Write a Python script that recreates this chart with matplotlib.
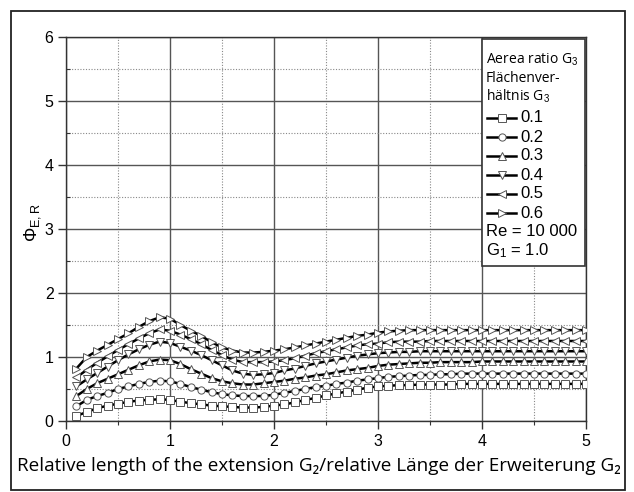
import matplotlib
matplotlib.use("Agg")
import matplotlib.pyplot as plt
from matplotlib.lines import Line2D
from matplotlib.patches import Rectangle
from matplotlib.ticker import MultipleLocator

plt.rcParams['font.family'] = ['Liberation Sans', 'DejaVu Sans']
plt.rcParams['mathtext.fontset'] = 'custom'
plt.rcParams['mathtext.rm'] = 'Liberation Sans'
plt.rcParams['mathtext.it'] = 'Liberation Sans:italic'

# relative length of the extension G2
G2 = [0.1, 0.2, 0.3, 0.4, 0.5, 0.6, 0.7, 0.8, 0.9, 1.0,
      1.1, 1.2, 1.3, 1.4, 1.5, 1.6, 1.7, 1.8, 1.9, 2.0,
      2.1, 2.2, 2.3, 2.4, 2.5, 2.6, 2.7, 2.8, 2.9, 3.0,
      3.1, 3.2, 3.3, 3.4, 3.5, 3.6, 3.7, 3.8, 3.9, 4.0,
      4.1, 4.2, 4.3, 4.4, 4.5, 4.6, 4.7, 4.8, 4.9, 5.0]

ratios = ['0.1', '0.2', '0.3', '0.4', '0.5', '0.6']

phi_01 = [0.08, 0.14, 0.20, 0.24, 0.27, 0.30, 0.32, 0.33, 0.34, 0.33,
          0.30, 0.28, 0.26, 0.24, 0.23, 0.22, 0.21, 0.21, 0.22, 0.24,
          0.26, 0.29, 0.33, 0.36, 0.40, 0.43, 0.46, 0.49, 0.52, 0.54,
          0.55, 0.56, 0.56, 0.57, 0.57, 0.57, 0.57, 0.58, 0.58, 0.58,
          0.58, 0.58, 0.58, 0.58, 0.58, 0.58, 0.58, 0.58, 0.58, 0.58]
phi_02 = [0.23, 0.33, 0.39, 0.44, 0.50, 0.54, 0.58, 0.61, 0.63, 0.62,
          0.58, 0.53, 0.49, 0.45, 0.42, 0.40, 0.39, 0.39, 0.39, 0.41,
          0.44, 0.47, 0.50, 0.53, 0.55, 0.58, 0.60, 0.63, 0.65, 0.67,
          0.69, 0.70, 0.71, 0.72, 0.72, 0.73, 0.73, 0.74, 0.74, 0.74,
          0.74, 0.74, 0.74, 0.74, 0.74, 0.74, 0.74, 0.74, 0.74, 0.74]
phi_03 = [0.39, 0.50, 0.59, 0.66, 0.73, 0.80, 0.87, 0.93, 0.96, 0.95,
          0.89, 0.81, 0.74, 0.67, 0.62, 0.59, 0.57, 0.57, 0.59, 0.61,
          0.63, 0.66, 0.68, 0.71, 0.73, 0.76, 0.79, 0.81, 0.83, 0.86,
          0.88, 0.89, 0.90, 0.91, 0.91, 0.92, 0.92, 0.92, 0.92, 0.93,
          0.93, 0.93, 0.93, 0.93, 0.93, 0.93, 0.93, 0.93, 0.93, 0.93]
phi_04 = [0.54, 0.65, 0.75, 0.85, 0.95, 1.04, 1.12, 1.19, 1.24, 1.22,
          1.16, 1.10, 1.03, 0.95, 0.87, 0.79, 0.74, 0.72, 0.73, 0.75,
          0.79, 0.82, 0.86, 0.90, 0.93, 0.96, 0.99, 1.02, 1.04, 1.06,
          1.07, 1.08, 1.08, 1.09, 1.09, 1.09, 1.09, 1.09, 1.09, 1.09,
          1.09, 1.09, 1.09, 1.09, 1.09, 1.09, 1.09, 1.09, 1.09, 1.09]
phi_05 = [0.68, 0.80, 0.91, 1.01, 1.11, 1.20, 1.29, 1.37, 1.43, 1.41,
          1.35, 1.28, 1.20, 1.11, 1.03, 0.96, 0.92, 0.92, 0.92, 0.93,
          0.95, 0.98, 1.02, 1.06, 1.09, 1.12, 1.15, 1.18, 1.20, 1.21,
          1.23, 1.24, 1.24, 1.24, 1.25, 1.25, 1.25, 1.25, 1.25, 1.25,
          1.25, 1.25, 1.25, 1.25, 1.25, 1.25, 1.25, 1.25, 1.25, 1.25]
phi_06 = [0.82, 1.00, 1.10, 1.19, 1.28, 1.37, 1.47, 1.56, 1.62, 1.60,
          1.50, 1.41, 1.33, 1.23, 1.15, 1.10, 1.07, 1.07, 1.08, 1.10,
          1.12, 1.15, 1.18, 1.21, 1.24, 1.27, 1.30, 1.33, 1.35, 1.38,
          1.40, 1.41, 1.42, 1.42, 1.42, 1.42, 1.42, 1.42, 1.42, 1.42,
          1.42, 1.42, 1.42, 1.42, 1.42, 1.42, 1.42, 1.42, 1.42, 1.42]

series = [phi_01, phi_02, phi_03, phi_04, phi_05, phi_06]
markers = ['s', 'o', '^', 'v', '<', '>']

fig = plt.figure(figsize=(6.34, 4.92), dpi=100)

# outer frame
fig.patches.append(Rectangle((11/634, 2/492), 614/634, 479/492, transform=fig.transFigure,
                             fill=False, edgecolor='#222222', lw=1.3))

ax = fig.add_axes([66/634, 71/492, 520/634, 384/492])

line_kw = dict(color='black', lw=1.8, ms=5.2, mfc='white', mec='#555555', mew=0.7)
for vals, m in zip(series, markers):
    ax.plot(G2, vals, marker=m, zorder=3, **line_kw)

ax.set_xlim(0, 5)
ax.set_ylim(0, 6)
ax.xaxis.set_major_locator(MultipleLocator(1))
ax.xaxis.set_minor_locator(MultipleLocator(0.5))
ax.yaxis.set_major_locator(MultipleLocator(1))
ax.yaxis.set_minor_locator(MultipleLocator(0.5))
ax.grid(which='major', color='#555555', lw=1.0, ls='-')
ax.grid(which='minor', color='#888888', lw=0.8, ls=(0, (1, 1.5)))
ax.set_axisbelow(True)
for s in ax.spines.values():
    s.set_color('#333333')
    s.set_linewidth(1.0)
ax.tick_params(which='major', direction='out', length=6, width=1, colors='#333333',
               labelsize=11.5, labelcolor='black', pad=3)
ax.tick_params(axis='x', which='minor', direction='out', length=3, width=0.8, colors='#333333')
ax.tick_params(axis='y', which='minor', direction='in', length=3, width=0.8, colors='#333333')

# axis titles
fig.text(319/634, (492-466)/492, 'Relative length of the extension G\u2082/relative L\u00e4nge der Erweiterung G\u2082',
         ha='center', va='center', fontsize=13.6, family=['Open Sans', 'DejaVu Sans'])
fig.text(33/634, (492-222)/492, r'$\Phi_{\mathrm{E,R}}$', rotation=90, ha='center', va='center',
         fontsize=13)

# legend box (drawn by hand to match the layout)
def ax_x(px):
    return (px - 66) / 520

def ax_y(py):
    return (421 - py) / 384

ax.add_patch(Rectangle((ax_x(482), ax_y(266)), ax_x(585) - ax_x(482), ax_y(39) - ax_y(266),
                       transform=ax.transAxes, facecolor='white', edgecolor='#333333',
                       lw=1.2, zorder=5))
title_lines = ['Aerea ratio G$_3$', 'Fl\u00e4chenver-', 'h\u00e4ltnis G$_3$']
for i, t in enumerate(title_lines):
    ax.text(ax_x(486), ax_y(60 + 18 * i), t, transform=ax.transAxes, fontsize=10,
            ha='left', va='center', family=['Open Sans', 'DejaVu Sans'], zorder=6)
for i, (lab, m) in enumerate(zip(ratios, markers)):
    yy = ax_y(118 + 19 * i)
    ax.add_line(Line2D([ax_x(487), ax_x(516)], [yy, yy], transform=ax.transAxes,
                       color='black', lw=1.8, zorder=6))
    ax.add_line(Line2D([ax_x(501.5)], [yy], transform=ax.transAxes, ls='none', marker=m,
                       ms=5.2, mfc='white', mec='#555555', mew=0.7, zorder=7))
    ax.text(ax_x(520), yy, lab, transform=ax.transAxes, fontsize=12, ha='left',
            va='center', zorder=6)
ax.text(ax_x(486), ax_y(232), 'Re = 10 000', transform=ax.transAxes, fontsize=12,
        ha='left', va='center', zorder=6)
ax.text(ax_x(486), ax_y(251), 'G$_1$ = 1.0', transform=ax.transAxes, fontsize=12,
        ha='left', va='center', zorder=6)

fig.savefig('out.png', dpi=100)
